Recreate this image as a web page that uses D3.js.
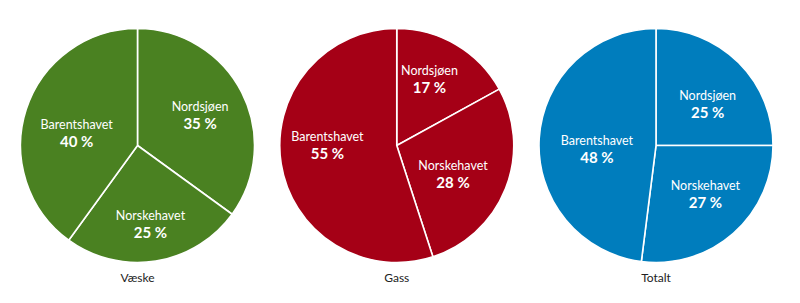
<!DOCTYPE html>
<html><head><meta charset="utf-8">
<script src="https://cdn.jsdelivr.net/npm/d3@7"></script>
<style>body{margin:0;background:#fff}svg{display:block}</style>
</head><body>
<svg id="c" width="800" height="303"></svg>
<script>
const categories = ["Nordsjøen", "Norskehavet", "Barentshavet"];
const pieTitles = ["Væske", "Gass", "Totalt"];
const vaeske = [35, 25, 40];
const gass = [17, 28, 55];
const totalt = [25, 27, 48];
const colors = ["#4a8121", "#a50016", "#007dbd"];

// small hand-tuned label nudges (layout only), per pie then per category
const labelNudge = [
  [[0, 1], [2, 9], [6, 9]],
  [[-3, -6], [-9, 3], [0, -11]],
  [[2, 8], [3, -4], [11, 8]]
];

const series = [vaeske, gass, totalt];
const svg = d3.select("#c");
const R = 117;
const x = d3.scalePoint().domain(pieTitles).range([137.5, 656]);
const cy = 145.5;
const pie = d3.pie().sort(null).value(d => d.v);
const arc = d3.arc().innerRadius(0).outerRadius(R);
const labelArc = d3.arc().innerRadius(R * 0.6).outerRadius(R * 0.6);
const font = "Lato, 'Open Sans', sans-serif";

series.forEach((vals, i) => {
  const g = svg.append("g").attr("transform", `translate(${x(pieTitles[i])},${cy})`);
  const data = pie(vals.map((v, j) => ({ v, name: categories[j], j })));
  g.selectAll("path").data(data).join("path")
    .attr("d", arc).attr("fill", colors[i])
    .attr("stroke", "#fff").attr("stroke-width", 1.6).attr("stroke-linejoin", "round");
  const lab = g.selectAll("g.lab").data(data).join("g").attr("class", "lab")
    .attr("transform", d => {
      const c = labelArc.centroid(d);
      const n = labelNudge[i][d.data.j];
      return `translate(${c[0] + n[0]},${c[1] + n[1]})`;
    });
  lab.append("text").attr("text-anchor", "middle").attr("y", -4)
    .attr("fill", "#fff").attr("font-family", font).attr("font-size", 12.5)
    .text(d => d.data.name);
  lab.append("text").attr("text-anchor", "middle").attr("y", 14)
    .attr("fill", "#fff").attr("font-family", font).attr("font-size", 15).attr("font-weight", "bold")
    .text(d => d.data.v + " %");
  svg.append("text").attr("x", x(pieTitles[i])).attr("y", 282)
    .attr("text-anchor", "middle").attr("font-family", font).attr("font-size", 12).attr("fill", "#222")
    .text(pieTitles[i]);
});
</script>
</body></html>
